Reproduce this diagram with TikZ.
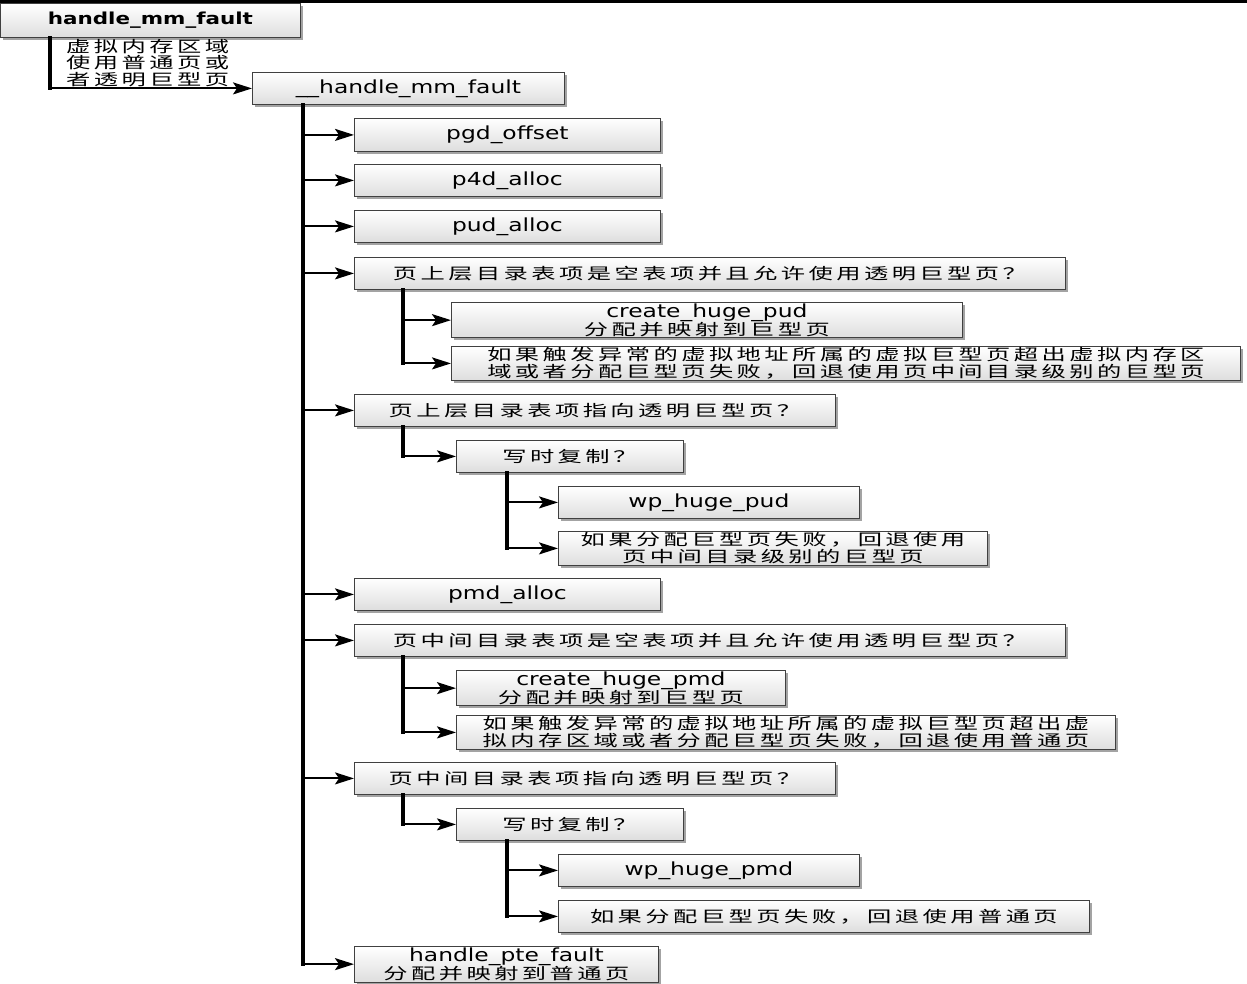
\documentclass[tikz,border=0pt]{standalone}
\usepackage{fontspec}
\setmainfont[FakeStretch=1.3]{DejaVu Sans}
\newfontfamily\cjk[FakeStretch=1.55,LetterSpace=22,Scale=0.87]{Noto Sans CJK SC}
\usetikzlibrary{arrows.meta,shadows}

\tikzset{
  box/.style={draw=black!75, line width=0.8pt, anchor=north west,
    top color=white, bottom color=black!13,
    drop shadow={shadow xshift=2.5pt, shadow yshift=-2.5pt, fill=black!45, opacity=0.8},
    inner sep=1pt, align=center, font=\fontsize{18}{16.8}\selectfont},
  trunk/.style={line width=3.5pt, line cap=rect},
  link/.style={line width=2pt, -{Stealth[length=19pt,width=12pt,inset=4pt]}},
}

\begin{document}
\begin{tikzpicture}[x=1pt,y=-1pt]
\useasboundingbox (0,0) rectangle (1247,983);
\fill (0,0) rectangle (1247,3);

% top level
\node[box, minimum width=300pt, minimum height=34pt, font=\fontsize{16.5}{16.8}\selectfont\bfseries] (hmf) at (0,3) {handle\_mm\_fault};
\node[box, minimum width=312pt, minimum height=32pt] (hmf2) at (252,72) {\_\_handle\_mm\_fault};
\node[anchor=north west, inner sep=0pt, align=left, font=\fontsize{18}{16.5}\selectfont\cjk] (vma) at (66,39) {虚拟内存区域\\使用普通页或\\者透明巨型页};

% page table levels
\node[box, minimum width=306pt, minimum height=33pt] (pgd) at (354,118) {pgd\_offset};
\node[box, minimum width=306pt, minimum height=32pt] (p4d) at (354,164) {p4d\_alloc};
\node[box, minimum width=306pt, minimum height=32pt] (pud) at (354,210) {pud\_alloc};
\node[box, minimum width=711pt, minimum height=32pt] (pudq) at (354,257) {\cjk 页上层目录表项是空表项并且允许使用透明巨型页？};
\node[box, minimum width=511pt, minimum height=33pt] (pudc) at (451,302) {create\_huge\_pud\\{\cjk 分配并映射到巨型页}};
\node[box, minimum width=789pt, minimum height=34pt] (pudf) at (451,346) {\cjk 如果触发异常的虚拟地址所属的虚拟巨型页超出虚拟内存区\\\cjk 域或者分配巨型页失败，回退使用页中间目录级别的巨型页};
\node[box, minimum width=481pt, minimum height=32pt] (pudt) at (354,394) {\cjk 页上层目录表项指向透明巨型页？};
\node[box, minimum width=227pt, minimum height=32pt] (cowa) at (456,440) {\cjk 写时复制？};
\node[box, minimum width=301pt, minimum height=32pt] (wppud) at (558,486) {wp\_huge\_pud};
\node[box, minimum width=429pt, minimum height=34pt] (wpfa) at (558,531) {\cjk 如果分配巨型页失败，回退使用\\\cjk 页中间目录级别的巨型页};
\node[box, minimum width=306pt, minimum height=32pt] (pmd) at (354,578) {pmd\_alloc};
\node[box, minimum width=711pt, minimum height=32pt] (pmdq) at (354,624) {\cjk 页中间目录表项是空表项并且允许使用透明巨型页？};
\node[box, minimum width=329pt, minimum height=33pt] (pmdc) at (456,670) {create\_huge\_pmd\\{\cjk 分配并映射到巨型页}};
\node[box, minimum width=659pt, minimum height=34pt] (pmdf) at (456,715) {\cjk 如果触发异常的虚拟地址所属的虚拟巨型页超出虚\\\cjk 拟内存区域或者分配巨型页失败，回退使用普通页};
\node[box, minimum width=481pt, minimum height=32pt] (pmdt) at (354,762) {\cjk 页中间目录表项指向透明巨型页？};
\node[box, minimum width=227pt, minimum height=32pt] (cowb) at (456,808) {\cjk 写时复制？};
\node[box, minimum width=301pt, minimum height=32pt] (wppmd) at (558,854) {wp\_huge\_pmd};
\node[box, minimum width=531pt, minimum height=32pt] (wpfb) at (558,900) {\cjk 如果分配巨型页失败，回退使用普通页};
\node[box, minimum width=304pt, minimum height=33pt] (pte) at (354,946) {handle\_pte\_fault\\{\cjk 分配并映射到普通页}};

% trunks
\coordinate (t0) at ([xshift=50pt]hmf.south west);
\coordinate (t1) at ([xshift=51pt]hmf2.south west);
\coordinate (t2) at ([xshift=49pt]pudq.south west);
\coordinate (t3) at ([xshift=49pt]pudt.south west);
\coordinate (t4) at ([xshift=51pt]cowa.south west);
\coordinate (t5) at ([xshift=49pt]pmdq.south west);
\coordinate (t6) at ([xshift=49pt]pmdt.south west);
\coordinate (t7) at ([xshift=51pt]cowb.south west);
\draw[trunk] (t0) -- (t0 |- hmf2.west);
\draw[trunk] (t1) -- (t1 |- pte.west);
\draw[trunk] (t2) -- (t2 |- pudf.west);
\draw[trunk] (t3) -- (t3 |- cowa.west);
\draw[trunk] (t4) -- (t4 |- wpfa.west);
\draw[trunk] (t5) -- (t5 |- pmdf.west);
\draw[trunk] (t6) -- (t6 |- cowb.west);
\draw[trunk] (t7) -- (t7 |- wpfb.west);

% arrows
\draw[link] (t0 |- hmf2.west) -- (hmf2.west);
\draw[link] (t1 |- pgd.west) -- (pgd.west);
\draw[link] (t1 |- p4d.west) -- (p4d.west);
\draw[link] (t1 |- pud.west) -- (pud.west);
\draw[link] (t1 |- pudq.west) -- (pudq.west);
\draw[link] (t2 |- pudc.west) -- (pudc.west);
\draw[link] (t2 |- pudf.west) -- (pudf.west);
\draw[link] (t1 |- pudt.west) -- (pudt.west);
\draw[link] (t3 |- cowa.west) -- (cowa.west);
\draw[link] (t4 |- wppud.west) -- (wppud.west);
\draw[link] (t4 |- wpfa.west) -- (wpfa.west);
\draw[link] (t1 |- pmd.west) -- (pmd.west);
\draw[link] (t1 |- pmdq.west) -- (pmdq.west);
\draw[link] (t5 |- pmdc.west) -- (pmdc.west);
\draw[link] (t5 |- pmdf.west) -- (pmdf.west);
\draw[link] (t1 |- pmdt.west) -- (pmdt.west);
\draw[link] (t6 |- cowb.west) -- (cowb.west);
\draw[link] (t7 |- wppmd.west) -- (wppmd.west);
\draw[link] (t7 |- wpfb.west) -- (wpfb.west);
\draw[link] (t1 |- pte.west) -- (pte.west);
\end{tikzpicture}
\end{document}
